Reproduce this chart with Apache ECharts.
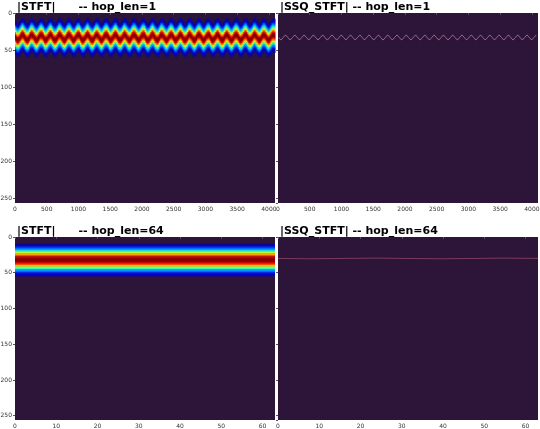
<!DOCTYPE html><html><head><meta charset="utf-8">
<script src="https://cdn.jsdelivr.net/npm/echarts@6/dist/echarts.min.js"></script>
<style>html,body{margin:0;background:#fff}#c{width:540px;height:429px}</style></head><body><div id="c"></div>
<script>
// one period of the oscillating ridge centre (frequency bin), sampled 8x per period
const ridgePattern = [33, 35.5, 36.5, 35.5, 33, 30.5, 29.5, 30.5];
const periodsTop = 28;
const nTop = 4096, nBot = 63, nFreq = 256;
// magnitude profile vs offset from ridge (bins)
const profileOffsets = [-22,-20,-18,-16,-14,-12,-10,-8,-6,-4,-2,0,2,4,6,8,10,12,14,16,18,20,22];
const profileTop = [0.03,0.06,0.11,0.18,0.27,0.37,0.48,0.6,0.72,0.84,0.95,1,0.95,0.84,0.72,0.6,0.48,0.37,0.27,0.18,0.11,0.06,0.03];
const profileBot = [0.05,0.09,0.15,0.23,0.32,0.43,0.54,0.65,0.76,0.87,0.96,1,0.96,0.87,0.76,0.65,0.54,0.43,0.32,0.23,0.15,0.09,0.05];
const centreBot = 32;
const ssqBotWiggle = [30,30.5,30,29.5,30,30.5,30,29.5,30];

const topCentres = [];
for (let p=0;p<periodsTop;p++) ridgePattern.forEach(v=>topCentres.push(v));
const colW = nTop/topCentres.length;
const cellsTop = [];
topCentres.forEach((c,i)=>profileOffsets.forEach((o,j)=>cellsTop.push([i*colW,(i+1)*colW,c+o-1,c+o+1,profileTop[j]])));
const cellsBot = [];
profileOffsets.forEach((o,j)=>cellsBot.push([0,nBot,centreBot+o-1,centreBot+o+1,profileBot[j]]));
const ssqTop = topCentres.map((c,i)=>[(i+0.5)*colW,c]);
const ssqBot = ssqBotWiggle.map((c,i)=>[i*nBot/(ssqBotWiggle.length-1),c]);

const chart = echarts.init(document.getElementById('c'));
const grids = [
 {left:15,top:13,width:260,height:190},{left:278,top:13,width:260,height:190},
 {left:15,top:237,width:260,height:183},{left:278,top:237,width:260,height:183}];
const titles = ['|STFT|      -- hop_len=1','|SSQ_STFT| -- hop_len=1','|STFT|      -- hop_len=64','|SSQ_STFT| -- hop_len=64'];
const bg = '#2d1539';
const xMax=[nTop,nTop,nBot,nBot], xInt=[500,500,10,10];
const lbl = {fontSize:6,color:'#333',fontFamily:'DejaVu Sans',formatter:v=>String(v),margin:3};
const rect = (params, api)=>{
  const p0=api.coord([api.value(0),api.value(2)]), p1=api.coord([api.value(1),api.value(3)]);
  return {type:'rect',shape:{x:p0[0],y:p0[1],width:p1[0]-p0[0]+0.5,height:p1[1]-p0[1]+0.3},style:{fill:api.visual('color')}};
};
chart.setOption({
 animation:false,
 title: titles.map((t,i)=>({text:t,left:grids[i].left-3,top:grids[i].top-16,textStyle:{fontSize:11,fontWeight:'bold',fontFamily:'DejaVu Sans',color:'#000'}})),
 grid: grids.map(g=>Object.assign({backgroundColor:bg,show:true,borderWidth:0,containLabel:false,outerBoundsMode:'none'},g)),
 xAxis: grids.map((g,i)=>({type:'value',gridIndex:i,min:0,max:xMax[i],interval:xInt[i],axisLabel:Object.assign({showMaxLabel:false,showMinLabel:true},lbl),axisLine:{show:false},axisTick:{length:2},splitLine:{show:false}})),
 yAxis: grids.map((g,i)=>({type:'value',gridIndex:i,inverse:true,min:0,max:nFreq,interval:50,axisLabel:Object.assign({show:i%2===0,showMaxLabel:false},lbl),axisTick:{show:true,length:2},axisLine:{show:false},splitLine:{show:false}})),
 visualMap:[{show:false,seriesIndex:[0,2],dimension:4,min:0,max:1,
   inRange:{color:['#1b0d6a','#0000c8','#0050ff','#00b0ff','#20f0d0','#90ff60','#f0f000','#ff9000','#ff2000','#b00000','#800000']}}],
 series:[
  {type:'custom',xAxisIndex:0,yAxisIndex:0,renderItem:rect,data:cellsTop,clip:true},
  {type:'line',xAxisIndex:1,yAxisIndex:1,data:ssqTop,symbol:'none',lineStyle:{color:'#c88aa8',width:0.7}},
  {type:'custom',xAxisIndex:2,yAxisIndex:2,renderItem:rect,data:cellsBot,clip:true},
  {type:'line',xAxisIndex:3,yAxisIndex:3,data:ssqBot,symbol:'none',lineStyle:{color:'#a04a6a',width:0.7}}
 ]
});
</script></body></html>
